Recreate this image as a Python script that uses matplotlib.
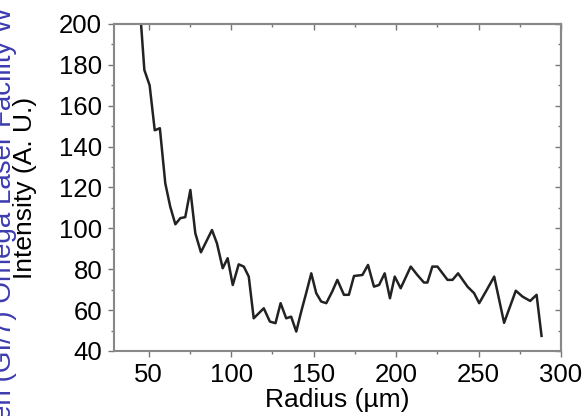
import matplotlib.pyplot as plt
from matplotlib.ticker import MultipleLocator, NullFormatter

plt.rcParams['font.family'] = ['Liberation Sans', 'DejaVu Sans']

radius = [45.4, 47.4, 50.6, 53.7, 56.8, 60.1, 63.1, 66.2, 69.2, 72.2, 75.3, 78.3,
          81.7, 84.9, 88.4, 91.4, 94.9, 97.9, 101.0, 104.6, 107.7, 110.7, 113.7,
          116.8, 119.8, 123.5, 126.9, 130.0, 133.4, 136.4, 139.5, 142.5, 145.5,
          148.6, 151.6, 154.6, 157.7, 161.3, 164.4, 168.4, 171.4, 174.5, 179.6,
          183.0, 186.6, 189.7, 193.1, 196.3, 199.2, 202.8, 208.9, 212.9, 216.9,
          219.0, 222.0, 225.1, 231.2, 234.2, 237.6, 243.3, 247.3, 250.4, 255.0,
          259.5, 265.5, 272.6, 276.7, 281.3, 285.2, 288.2]
intensity = [200, 177.5, 170, 148, 149, 122, 110.6, 102, 105, 105.5, 118.8, 97.6,
             88.3, 93.5, 99.2, 92.7, 80.5, 85.4, 72.3, 82.4, 81.3, 76.4, 56,
             58.5, 60.9, 54.4, 53.6, 63.4, 56, 56.8, 49.5, 59.3, 68.3,
             78, 68.3, 64.2, 63.4, 69.1, 74.8, 67.5, 67.5, 76.7, 77.2,
             82.1, 71.5, 72.3, 78, 65.8, 76.4, 70.7, 81.3, 77.2, 73.5,
             73.5, 81.3, 81.3, 74.8, 74.8, 78, 71.5, 68.3, 63.4, 69.9,
             76.4, 53.8, 69.5, 66.6, 64.5, 67.5, 47.4]

fig = plt.figure(figsize=(5.88, 4.16), dpi=100)
ax = fig.add_axes([114 / 588, 1 - 351 / 416, (561 - 114) / 588, (351 - 24) / 416])

ax.plot(radius, intensity, color='#222222', lw=1.8)

ax.set_xlim(29, 300)
ax.set_ylim(40, 200)
ax.xaxis.set_major_locator(MultipleLocator(50))
ax.xaxis.set_minor_locator(MultipleLocator(25))
ax.yaxis.set_major_locator(MultipleLocator(20))
ax.yaxis.set_minor_locator(MultipleLocator(10))
# bottom / left ticks point outwards
ax.tick_params(which='both', direction='out', color='#777777', labelsize=18.5)
ax.tick_params(which='major', length=4.5, width=1)
ax.tick_params(which='minor', length=2.5, width=1)
ax.tick_params(axis='x', pad=4.5)
ax.tick_params(axis='y', pad=4)
for s in ax.spines.values():
    s.set_color('#888888')
    s.set_linewidth(1.5)

# top / right ticks point inwards
top = ax.secondary_xaxis('top')
top.xaxis.set_major_locator(MultipleLocator(50))
top.xaxis.set_minor_locator(MultipleLocator(25))
top.xaxis.set_major_formatter(NullFormatter())
right = ax.secondary_yaxis('right')
right.yaxis.set_major_locator(MultipleLocator(20))
right.yaxis.set_minor_locator(MultipleLocator(10))
right.yaxis.set_major_formatter(NullFormatter())
for sec in (top, right):
    sec.tick_params(which='both', direction='in', color='#777777', width=1)
    sec.tick_params(which='major', length=4.5)
    sec.tick_params(which='minor', length=2.5)
    for s in sec.spines.values():
        s.set_color('#888888')
        s.set_linewidth(1.5)

ax.set_xlabel('Radius (µm)', fontsize=19, labelpad=0)
ax.set_ylabel('Intensity (A. U.)', fontsize=19, labelpad=16)

fig.text(11 / 588, -4 / 416, 'en (GI/7) Omega Laser Facility W', rotation=90,
         rotation_mode='anchor', ha='left', va='baseline', fontsize=20,
         color='#3c3cb0')

fig.savefig('out.png', dpi=100)
